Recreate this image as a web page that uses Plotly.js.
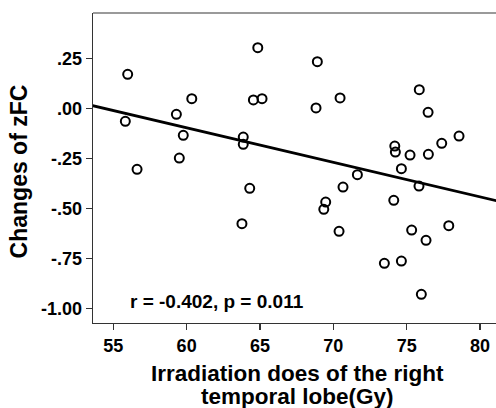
<!DOCTYPE html>
<html>
<head>
<meta charset="utf-8">
<script src="https://cdn.plot.ly/plotly-3.0.1.min.js"></script>
<style>html,body{margin:0;padding:0;background:#fff;}#chart{width:496px;height:408px;}</style>
</head>
<body>
<div id="chart"></div>
<script>
// Irradiation dose of the right temporal lobe (Gy)
const doseGy = [55.98, 55.82, 56.62, 59.30, 60.35, 59.77, 59.50, 64.85, 64.55, 65.14, 63.86, 63.86,
  68.91, 68.82, 70.46, 75.86, 76.46, 74.19, 74.23, 75.23, 76.48, 77.39, 78.57, 74.64, 71.64,
  64.30, 63.77, 70.66, 75.84, 69.48, 69.35, 74.12, 70.39, 75.34, 76.32, 77.87, 73.48, 74.64, 76.00];
// Changes of zFC
const zfcChange = [0.170, -0.065, -0.305, -0.030, 0.048, -0.135, -0.249, 0.303, 0.042, 0.048, -0.144, -0.180,
  0.233, 0.002, 0.052, 0.093, -0.020, -0.189, -0.219, -0.234, -0.230, -0.175, -0.139, -0.302, -0.332,
  -0.400, -0.577, -0.394, -0.389, -0.469, -0.505, -0.460, -0.615, -0.609, -0.660, -0.587, -0.775, -0.764, -0.930];
const yTickVals = [0.25, 0, -0.25, -0.5, -0.75, -1.0];
const yTickText = [".25", ".00", "-.25", "-.50", "-.75", "-1.00"];
const xTickVals = [55, 60, 65, 70, 75, 80];
const xRange = [53.616, 81.09];
const yRange = [-1.0735, 0.4765];
const statText = "r = -0.402, p = 0.011";
const xTitle1 = "Irradiation does of the right";
const xTitle2 = "temporal lobe(Gy)";
const yTitle = "Changes of zFC";

// least-squares fit line
const n = doseGy.length;
const mx = doseGy.reduce((a, b) => a + b, 0) / n;
const my = zfcChange.reduce((a, b) => a + b, 0) / n;
let sxy = 0, sxx = 0;
for (let i = 0; i < n; i++) { sxy += (doseGy[i] - mx) * (zfcChange[i] - my); sxx += (doseGy[i] - mx) ** 2; }
const slope = sxy / sxx, intercept = my - slope * mx;
const fitX = [xRange[0] - 1, xRange[1] + 1];
const fitY = fitX.map(x => intercept + slope * x);

const F = "Liberation Sans, Arial, sans-serif";
const traces = [
  {x: fitX, y: fitY, mode: "lines", line: {color: "#000", width: 2.8}, hoverinfo: "skip", showlegend: false},
  {x: doseGy, y: zfcChange, mode: "markers", showlegend: false,
   marker: {symbol: "circle-open", size: 9, color: "#000", line: {width: 2, color: "#000"}}}
];
const layout = {
  width: 496, height: 408,
  margin: {l: 93, r: 0, t: 13, b: 85},
  paper_bgcolor: "#fff", plot_bgcolor: "#fff",
  font: {family: F, color: "#000"},
  showlegend: false,
  xaxis: {range: xRange, tickvals: xTickVals, ticktext: xTickVals.map(String),
    showgrid: false, zeroline: false, showline: true, linecolor: "#333", linewidth: 1.3,
    ticks: "outside", ticklen: 6, tickcolor: "#333", tickwidth: 1.3,
    tickfont: {family: F, size: 18, color: "#000", weight: "bold"}},
  yaxis: {range: yRange, tickvals: yTickVals, ticktext: yTickText,
    showgrid: false, zeroline: false, showline: true, linecolor: "#333", linewidth: 1.3,
    ticks: "outside", ticklen: 6, tickcolor: "#333", tickwidth: 1.3,
    tickfont: {family: F, size: 18, color: "#000", weight: "bold"}},
  shapes: [{type: "line", xref: "paper", yref: "paper", x0: 0, x1: 1, y0: 1, y1: 1,
    line: {color: "#9a9a9a", width: 2}}],
  annotations: [
    {text: statText, xref: "paper", yref: "paper", x: 0.0876, y: 0.0694, xanchor: "left", yanchor: "middle",
     showarrow: false, font: {family: F, size: 19, color: "#000", weight: "bold"}},
    {text: xTitle1, xref: "paper", yref: "paper", x: 0.5066, y: -0.1635, xanchor: "center", yanchor: "middle",
     showarrow: false, font: {family: F, size: 22.5, color: "#000", weight: "bold"}},
    {text: xTitle2, xref: "paper", yref: "paper", x: 0.5066, y: -0.2385, xanchor: "center", yanchor: "middle",
     showarrow: false, font: {family: F, size: 22.5, color: "#000", weight: "bold"}},
    {text: yTitle, xref: "paper", yref: "paper", x: -0.1844, y: 0.488, xanchor: "center", yanchor: "middle",
     textangle: -90, showarrow: false, font: {family: F, size: 23, color: "#000", weight: "bold"}}
  ]
};
Plotly.newPlot("chart", traces, layout, {staticPlot: true, displayModeBar: false});
</script>
</body>
</html>
